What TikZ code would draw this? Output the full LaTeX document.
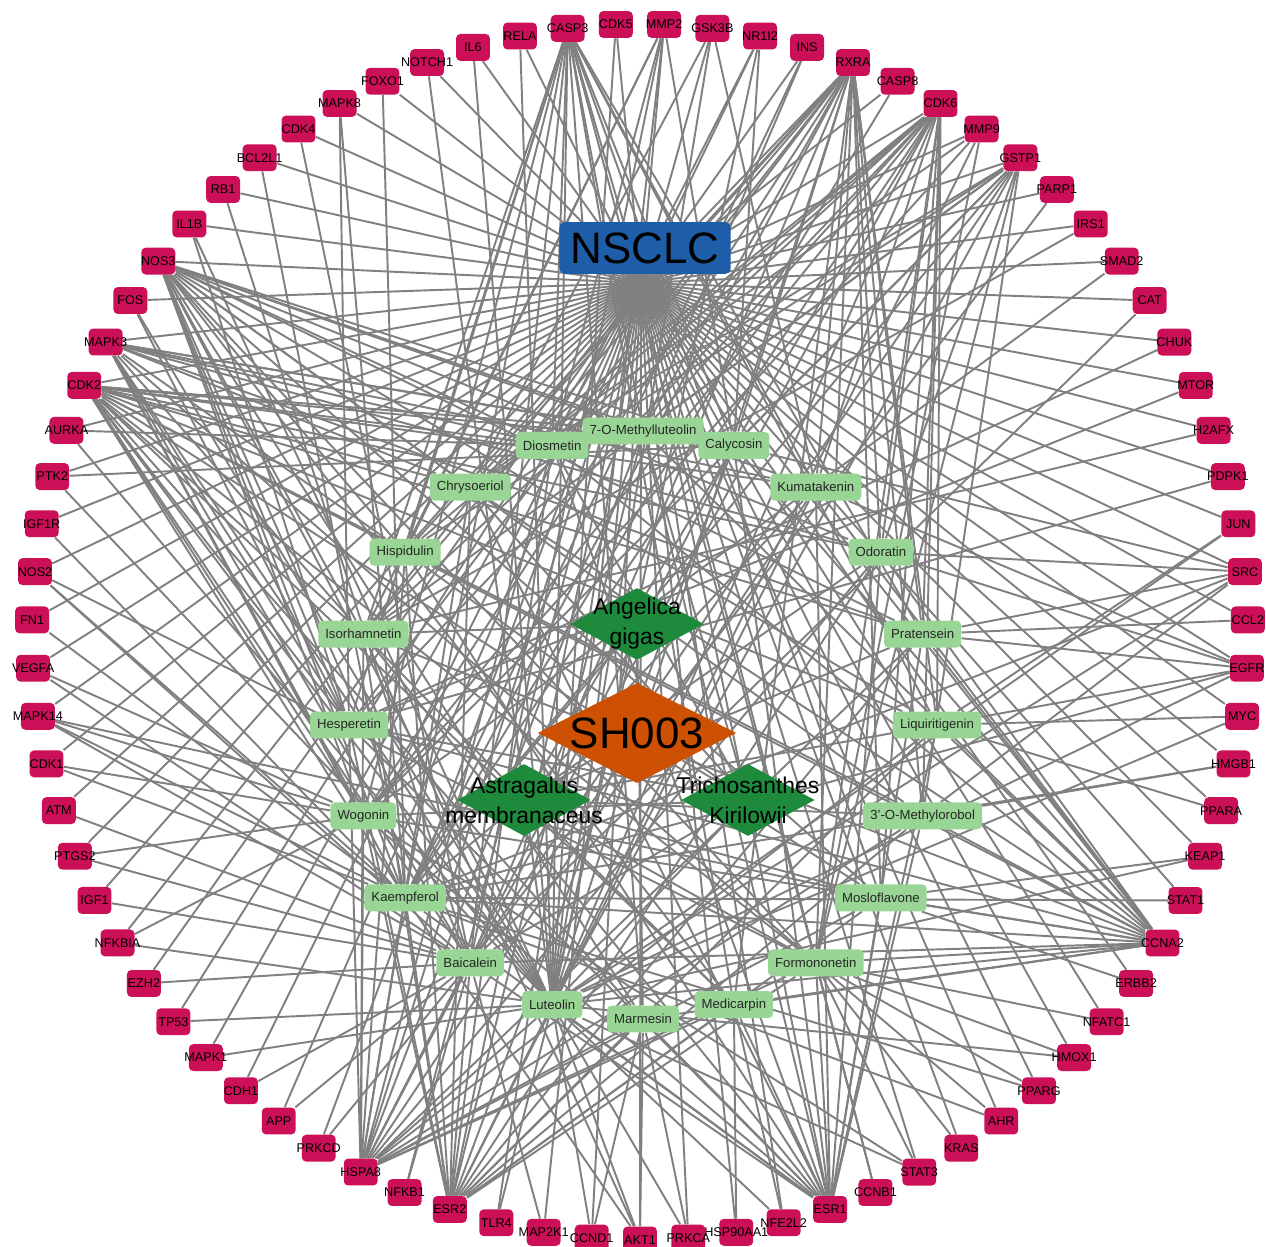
\documentclass[tikz,border=0pt]{standalone}
\usepackage{fontspec}
\setmainfont{Liberation Sans}
\usetikzlibrary{shapes.geometric, backgrounds, positioning}
\definecolor{genered}{RGB}{204,16,88}
\definecolor{compgreen}{RGB}{153,214,150}
\definecolor{herbgreen}{RGB}{30,138,60}
\definecolor{shorange}{RGB}{206,80,2}
\definecolor{nsclcblue}{RGB}{30,94,168}
\tikzstyle{link} = [draw=gray, line width=1.1pt]

\begin{document}
\begin{tikzpicture}[
	x=0.02cm, y=-0.02cm,
	gene/.style={rectangle, rounded corners=2.5pt, fill=genered, minimum width=19.3pt, minimum height=15.3pt, inner sep=0pt, font=\fontsize{7.2}{8}\selectfont},
	compound/.style={rectangle, rounded corners=2.5pt, fill=compgreen, minimum height=15.3pt, inner xsep=4pt, inner ysep=0pt, text=black!85, font=\fontsize{7.5}{9}\selectfont},
	herb/.style={diamond, fill=herbgreen, minimum width=76pt, minimum height=41pt, inner sep=0pt},
	herbtext/.style={align=center, font=\fontsize{13}{17}\selectfont},
	formula/.style={diamond, fill=shorange, aspect=2, minimum width=113pt, minimum height=57pt, inner sep=0pt, font=\fontsize{25}{30}\selectfont},
	disease/.style={rectangle, rounded corners=3pt, fill=nsclcblue, minimum width=97.5pt, minimum height=29.5pt, inner sep=0pt, font=\fontsize{25}{30}\selectfont}
]
\useasboundingbox (0,0) rectangle (1266,1246);

% Targets on the outer ring
\foreach \g [count=\i from 0] in {CDK5,MMP2,GSK3B,NR1I2,INS,RXRA,CASP8,CDK6,MMP9,GSTP1,PARP1,IRS1,SMAD2,CAT,CHUK,MTOR,H2AFX,PDPK1,JUN,SRC,CCL2,EGFR,MYC,HMGB1,PPARA,KEAP1,STAT1,CCNA2,ERBB2,NFATC1,HMOX1,PPARG,AHR,KRAS,STAT3,CCNB1,ESR1,NFE2L2,HSP90AA1,PRKCA,AKT1,CCND1,MAP2K1,TLR4,ESR2,NFKB1,HSPA8,PRKCD,APP,CDH1,MAPK1,TP53,EZH2,NFKBIA,IGF1,PTGS2,ATM,CDK1,MAPK14,VEGFA,FN1,NOS2,IGF1R,PTK2,AURKA,CDK2,MAPK3,FOS,NOS3,IL1B,RB1,BCL2L1,CDK4,MAPK8,FOXO1,NOTCH1,IL6,RELA,CASP3}{
	\pgfmathsetmacro\ang{92.2785-4.5570*\i}
	\node[gene] (\g) at ({640+608*cos(\ang)},{632-608*sin(\ang)}) {\makebox[0pt]{\g}};
}

% Compounds on the inner ring
\foreach \n/\t [count=\k from 0] in {Methylluteolin/7-O-Methylluteolin, Calycosin/Calycosin, Kumatakenin/Kumatakenin, Odoratin/Odoratin, Pratensein/Pratensein, Liquiritigenin/Liquiritigenin, Methylorobol/3'-O-Methylorobol, Mosloflavone/Mosloflavone, Formononetin/Formononetin, Medicarpin/Medicarpin, Marmesin/Marmesin, Luteolin/Luteolin, Baicalein/Baicalein, Kaempferol/Kaempferol, Wogonin/Wogonin, Hesperetin/Hesperetin, Isorhamnetin/Isorhamnetin, Hispidulin/Hispidulin, Chrysoeriol/Chrysoeriol, Diosmetin/Diosmetin}{
	\pgfmathsetmacro\ang{90-18*\k}
	\node[compound] (\n) at ({643+294*cos(\ang)},{725-294*sin(\ang)}) {\t};
}

% Disease, formula and herbs
\node[disease] (NSCLC) at (645,248) {NSCLC};
\coordinate (NSCLChub) at (641,283);
\node[formula] (SH003) at (637,733) {SH003};
\node[herb, label={[herbtext]center:{Angelica\\gigas}}] (AG) at (637,624) {};
\node[herb, label={[herbtext]center:{Astragalus\\membranaceus}}] (AM) at (524,800) {};
\node[herb, label={[herbtext]center:{Trichosanthes\\Kirilowii}}] (TK) at (748,800) {};

\begin{scope}[on background layer]
% disease-target links
\foreach \g in {CDK5,MMP2,GSK3B,NR1I2,INS,RXRA,CASP8,CDK6,MMP9,GSTP1,PARP1,IRS1,SMAD2,CAT,CHUK,MTOR,H2AFX,PDPK1,JUN,SRC,CCL2,EGFR,MYC,HMGB1,PPARA,KEAP1,STAT1,CCNA2,ERBB2,NFATC1,HMOX1,PPARG,AHR,KRAS,STAT3,CCNB1,ESR1,NFE2L2,HSP90AA1,PRKCA,AKT1,CCND1,MAP2K1,TLR4,ESR2,NFKB1,HSPA8,PRKCD,APP,CDH1,MAPK1,TP53,EZH2,NFKBIA,IGF1,PTGS2,ATM,CDK1,MAPK14,VEGFA,FN1,NOS2,IGF1R,PTK2,AURKA,CDK2,MAPK3,FOS,NOS3,IL1B,RB1,BCL2L1,CDK4,MAPK8,FOXO1,NOTCH1,IL6,RELA,CASP3}
	\draw[link] (NSCLChub) -- (\g);

% compound-target links
\foreach \c/\ts in {
	Luteolin/{CASP3,CDK5,MMP2,GSK3B,NR1I2,RXRA,CDK6,MMP9,GSTP1,IL6,RELA,NOTCH1,CDK2,MAPK3,NOS3,AURKA,PTK2,SRC,EGFR,CCNA2,ESR1,ESR2,HSPA8,AKT1,TP53,MAPK1,NFKBIA,CCND1,PRKCA,TLR4,HMOX1,STAT3,KEAP1,NFE2L2,IL1B,FOS,JUN,MYC},
	Kaempferol/{CDK2,MAPK3,NOS3,CDK6,RXRA,CASP3,ESR1,ESR2,HSPA8,CCNA2,GSTP1,SRC,EGFR,IGF1R,NOS2,FN1,MAPK14,CDK1,MAPK8,BCL2L1,PPARG,AHR,HMGB1,STAT1,AKT1,CASP8,FOXO1,INS},
	Baicalein/{CDK2,MAPK3,NOS3,CDK6,RXRA,CASP3,MMP2,ESR1,ESR2,HSPA8,CCNA2,GSTP1,NOS2,MAPK14,CDK4,RB1,VEGFA,PTGS2,ATM,IGF1,EZH2,CDH1,APP,PRKCD,NFKB1,MAP2K1,PARP1,CAT},
	Wogonin/{CDK2,CDK6,RXRA,CASP3,NOS3,MAPK3,ESR1,ESR2,HSPA8,CCNA2,GSTP1,MMP9,CDK1,MAPK14,VEGFA,NFKBIA,PTGS2,STAT3,SMAD2},
	Hesperetin/{CDK2,CDK6,NOS3,MAPK3,RXRA,CASP3,ESR1,ESR2,HSPA8,CCNA2,IL1B,FOS,CHUK,MTOR,PDPK1,MAPK8},
	Isorhamnetin/{CDK2,CDK6,RXRA,NOS3,MAPK3,CASP3,ESR1,ESR2,HSPA8,CCNA2,GSTP1,MMP2,AKT1,IRS1,H2AFX},
	Hispidulin/{CDK2,CDK6,RXRA,NOS3,MAPK3,ESR1,ESR2,HSPA8,CCNA2,GSTP1,MMP2,CASP3},
	Chrysoeriol/{CDK2,CDK6,RXRA,NOS3,MAPK3,ESR1,ESR2,HSPA8,CCNA2,GSTP1,MMP9,GSK3B},
	Diosmetin/{CDK2,CDK6,RXRA,NOS3,MAPK3,ESR1,ESR2,HSPA8,CCNA2,CASP3,NR1I2,MMP2,AURKA},
	Methylluteolin/{CDK2,CDK6,RXRA,NOS3,MAPK3,ESR1,ESR2,HSPA8,CCNA2,GSTP1,CASP3,INS},
	Calycosin/{CDK2,CDK6,RXRA,NOS3,MAPK3,ESR1,ESR2,HSPA8,CCNA2,GSTP1,CASP3,MMP2,NR1I2,PTK2,SRC},
	Kumatakenin/{CDK2,CDK6,RXRA,NOS3,MAPK3,ESR1,ESR2,HSPA8,CCNA2,CASP3,GSK3B,EGFR},
	Odoratin/{CDK2,CDK6,RXRA,NOS3,MAPK3,ESR1,ESR2,HSPA8,CCNA2,GSTP1,SRC,EGFR},
	Pratensein/{CDK2,CDK6,RXRA,NOS3,MAPK3,ESR1,ESR2,HSPA8,CCNA2,CASP3,SRC,EGFR,CCL2},
	Liquiritigenin/{CDK2,CDK6,RXRA,NOS3,ESR1,ESR2,HSPA8,CCNA2,CASP3,PPARA,EGFR,JUN,MYC},
	Methylorobol/{CDK2,CDK6,RXRA,NOS3,ESR1,ESR2,HSPA8,CCNA2,GSTP1,SRC,HMGB1},
	Mosloflavone/{CDK2,CDK6,RXRA,NOS3,ESR1,ESR2,HSPA8,CCNA2,CASP3,KEAP1,ERBB2,MAPK14},
	Formononetin/{CDK2,CDK6,RXRA,NOS3,MAPK3,ESR1,ESR2,HSPA8,CCNA2,CASP3,GSTP1,PPARG,NFATC1,MMP9,KRAS,STAT3,CCNB1,HMOX1,NOS2,AHR},
	Medicarpin/{CDK2,RXRA,NOS3,ESR1,ESR2,HSPA8,CCNA2,CASP3,HSP90AA1,NFE2L2},
	Marmesin/{CDK2,NOS3,ESR1,ESR2,HSPA8,CCNA2,CASP3,CCND1,PRKCA,AKT1}}
	{\foreach \t in \ts {\draw[link] (\c) -- (\t);}}

% herb-compound links
\foreach \h/\cs in {
	AG/{Marmesin,Luteolin,Kaempferol,Isorhamnetin},
	AM/{Calycosin,Formononetin,Kumatakenin,Isorhamnetin,Kaempferol,Odoratin,Pratensein,Medicarpin,Mosloflavone,Methylorobol,Liquiritigenin},
	TK/{Luteolin,Diosmetin,Chrysoeriol,Methylluteolin,Hispidulin,Baicalein,Wogonin,Hesperetin}}
	{\foreach \c in \cs {\draw[link] (\h) -- (\c);}}

% formula-herb links
\draw[link] (SH003) -- (AG);
\draw[link] (SH003) -- (AM);
\draw[link] (SH003) -- (TK);
\end{scope}

\end{tikzpicture}
\end{document}
